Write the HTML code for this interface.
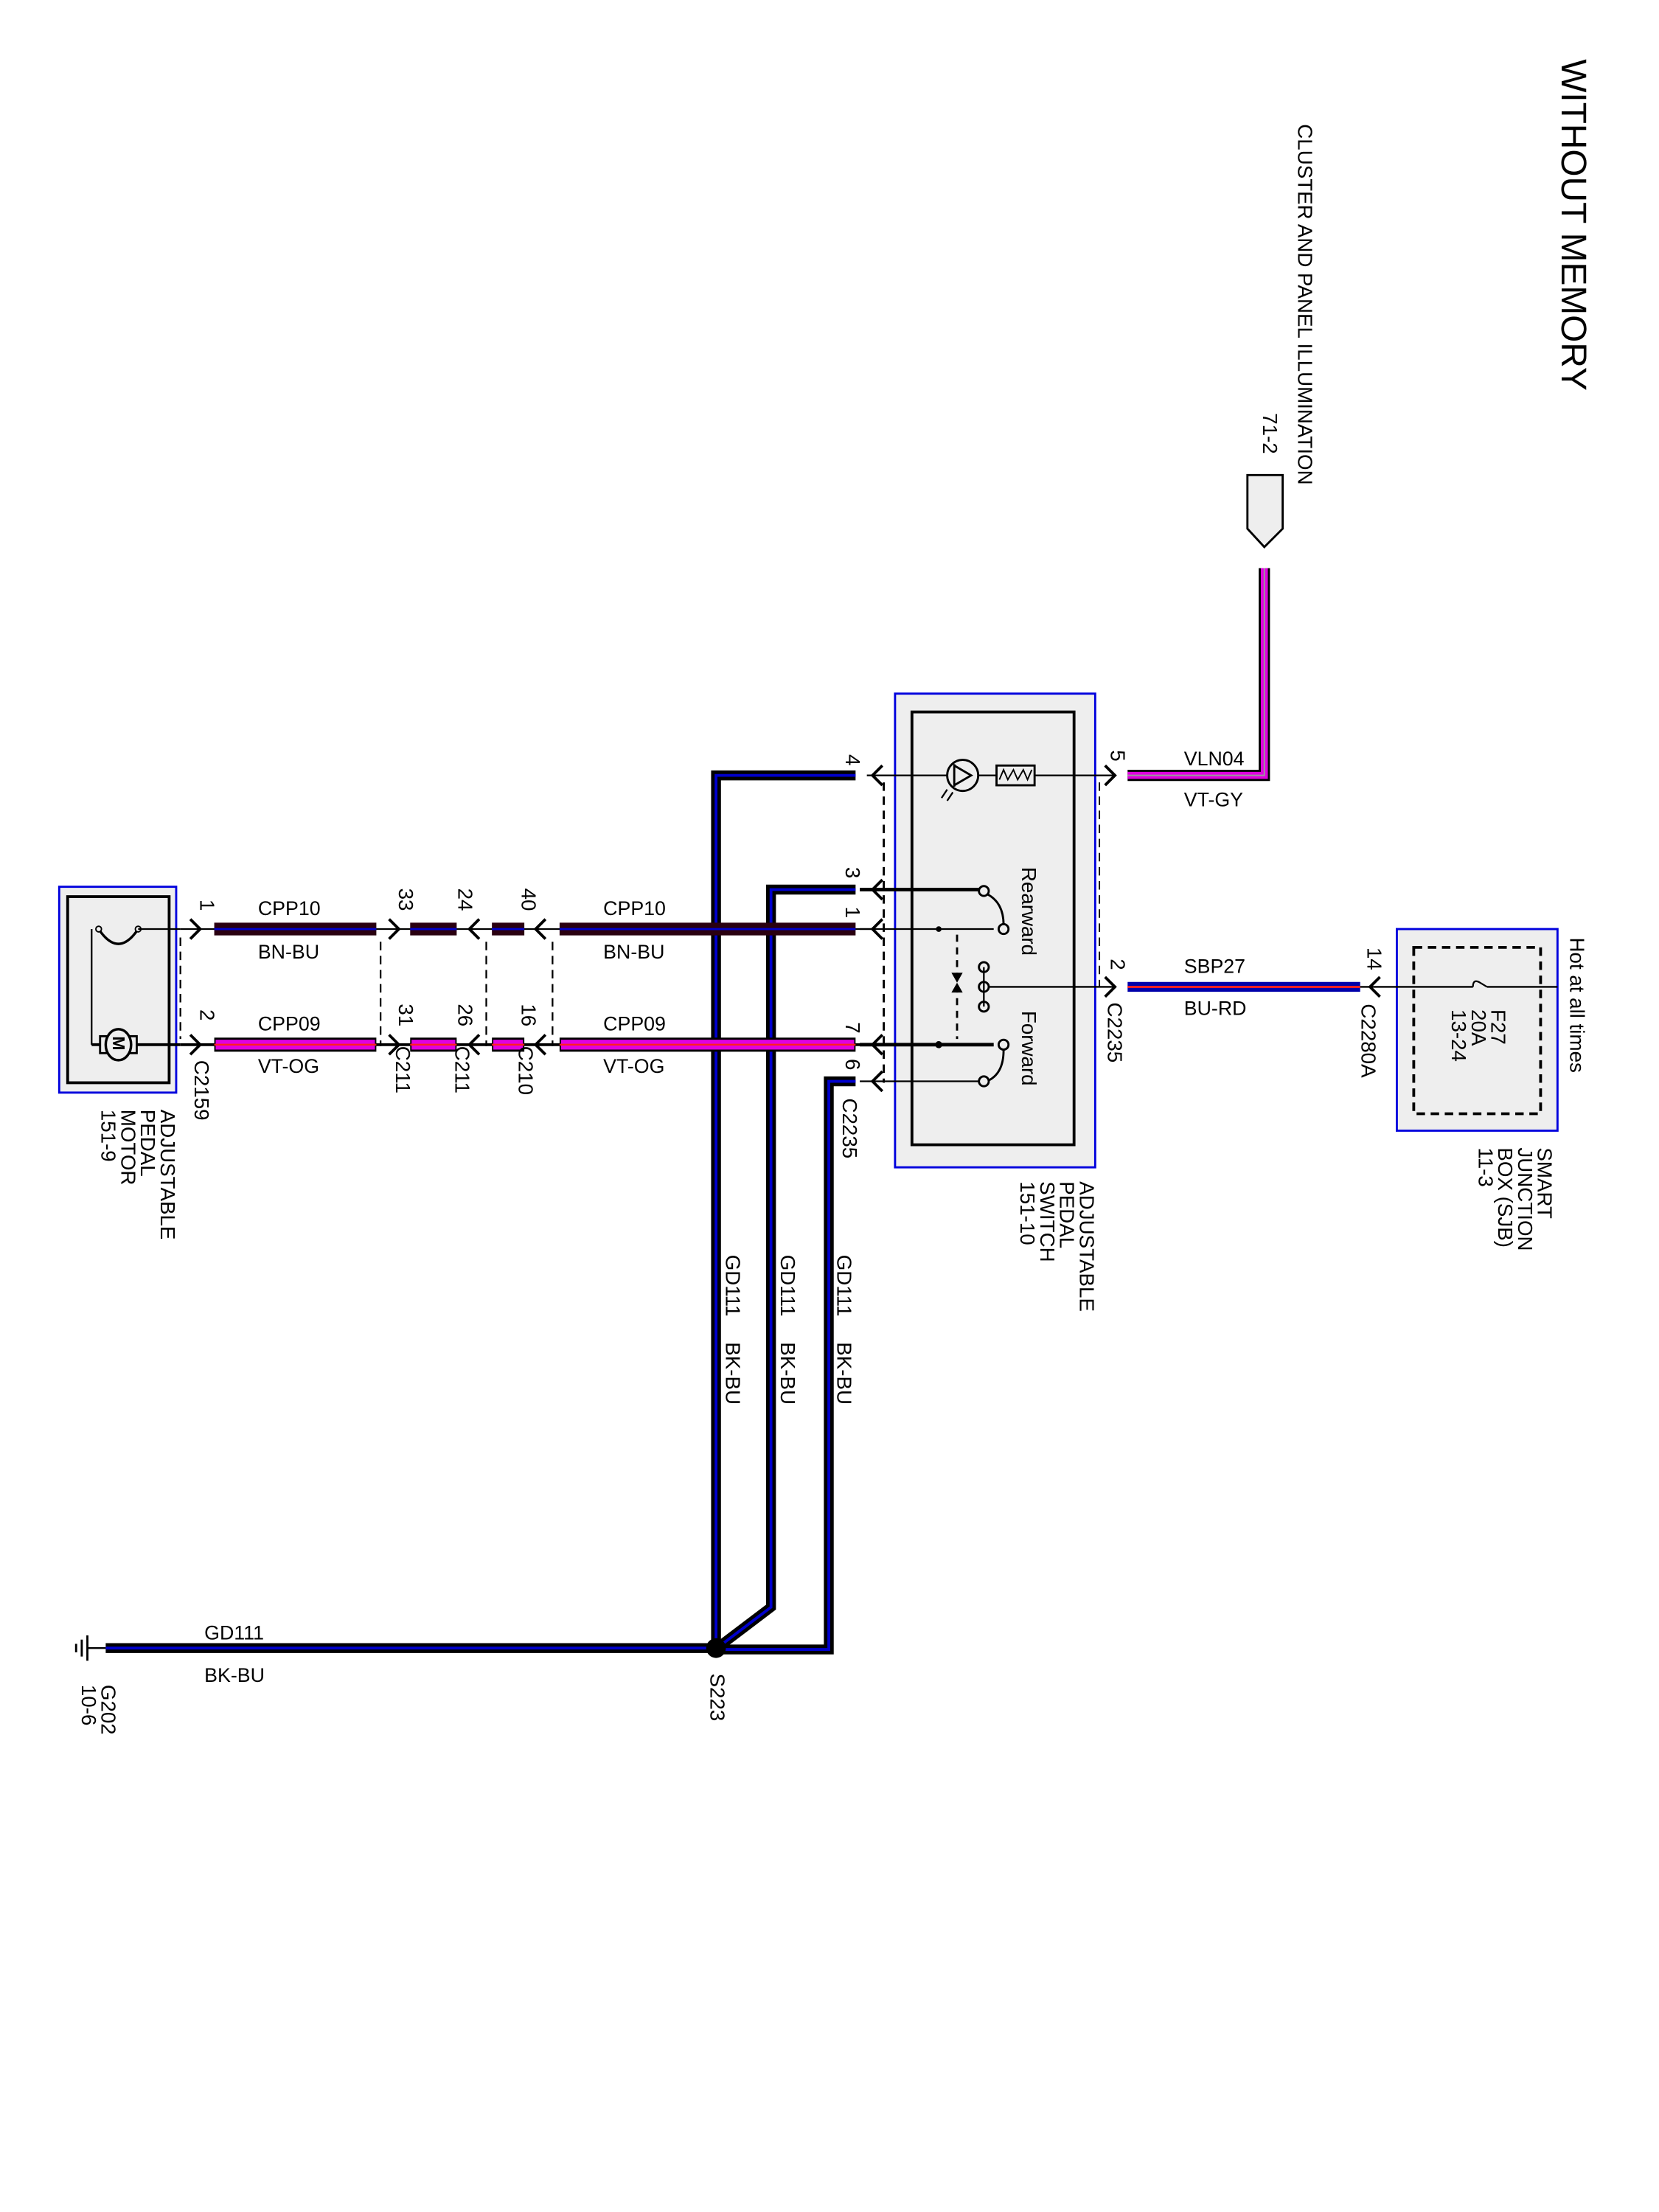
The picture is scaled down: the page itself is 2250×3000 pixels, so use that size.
<!DOCTYPE html>
<html><head><meta charset="utf-8"><style>
html,body{margin:0;padding:0;background:#fff;}
svg{display:block;}
text{font-family:"Liberation Sans",sans-serif;fill:#000;}
.r{font-size:14.5px;}
</style></head><body>
<svg width="2250" height="3000" viewBox="0 0 1177 1569" preserveAspectRatio="none" xmlns="http://www.w3.org/2000/svg">
<rect width="1177" height="1569" fill="#fff"/>

<text transform="translate(1108,42) rotate(90)" font-size="25">WITHOUT MEMORY</text>
<text class="r" transform="translate(921,88) rotate(90)">CLUSTER AND PANEL ILLUMINATION</text>
<text class="r" transform="translate(896,293) rotate(90)">71-2</text>
<polygon points="885,337 910,337 910,375 897,388 885,375" fill="#eee" stroke="#000" stroke-width="1.5"/>

<polyline points="897,403 897,550 800,550" fill="none" stroke="#000" stroke-width="8"/>
<polyline points="897,403 897,550 800,550" fill="none" stroke="#e000e0" stroke-width="5"/>
<polyline points="897,403 897,550 800,550" fill="none" stroke="#999" stroke-width="1"/>
<text x="840" y="543" font-size="14">VLN04</text>
<text x="840" y="572" font-size="14">VT-GY</text>

<rect x="635" y="492" width="142" height="336" fill="#eee" stroke="#0000dd" stroke-width="1.5"/>
<rect x="647" y="505" width="115" height="307" fill="none" stroke="#000" stroke-width="2"/>
<line x1="627" y1="555" x2="627" y2="768" stroke="#000" stroke-width="1.5" stroke-dasharray="6,4"/>
<line x1="780" y1="555" x2="780" y2="700" stroke="#000" stroke-width="1" stroke-dasharray="6,4"/>
<text x="725" y="615" font-size="14.5" transform="rotate(90 725 615)">Rearward</text>
<text x="725" y="717" font-size="14.5" transform="rotate(90 725 717)">Forward</text>
<line x1="615" y1="550" x2="790" y2="550" stroke="#000" stroke-width="1.2"/>
<circle cx="683" cy="550" r="11" fill="#eee" stroke="#000" stroke-width="1.5"/>
<polyline points="677,543 689,550 677,557" fill="none" stroke="#000" stroke-width="1.5"/>
<line x1="677" y1="542" x2="677" y2="558" stroke="#000" stroke-width="1.5"/>
<line x1="672" y1="560" x2="668" y2="566" stroke="#000" stroke-width="1.2"/>
<line x1="676" y1="562" x2="672" y2="568" stroke="#000" stroke-width="1.2"/>
<rect x="707" y="543" width="27" height="14" fill="#eee" stroke="#000" stroke-width="1.5"/>
<polyline points="709,553 712,546 715,553 719,546 722,553 726,546 729,553 732,546" fill="none" stroke="#000" stroke-width="1"/>
<line x1="610" y1="631" x2="697" y2="631" stroke="#000" stroke-width="2.5"/>
<circle cx="698" cy="632" r="3.5" fill="#eee" stroke="#000" stroke-width="1.5"/>
<path d="M700,634 Q712,640 712,656" fill="none" stroke="#000" stroke-width="1.5"/>
<line x1="610" y1="659" x2="705" y2="659" stroke="#000" stroke-width="1.2"/>
<circle cx="666" cy="659" r="2" fill="#000"/>
<circle cx="712" cy="659" r="3.5" fill="#eee" stroke="#000" stroke-width="1.5"/>
<line x1="679" y1="663" x2="679" y2="737" stroke="#000" stroke-width="1.5" stroke-dasharray="5,4"/>
<polygon points="675,690 683,690 679,697" fill="#000"/>
<polygon points="675,704 683,704 679,697" fill="#000"/>
<circle cx="698" cy="686" r="3.5" fill="#eee" stroke="#000" stroke-width="1.5"/>
<circle cx="698" cy="700" r="3.5" fill="#eee" stroke="#000" stroke-width="1.5"/>
<circle cx="698" cy="714" r="3.5" fill="#eee" stroke="#000" stroke-width="1.5"/>
<line x1="698" y1="686" x2="698" y2="714" stroke="#000" stroke-width="1.2"/>
<line x1="701" y1="700" x2="790" y2="700" stroke="#000" stroke-width="1.2"/>
<line x1="610" y1="741" x2="705" y2="741" stroke="#000" stroke-width="2.5"/>
<circle cx="666" cy="741" r="2.5" fill="#000"/>
<circle cx="712" cy="741" r="3.5" fill="#eee" stroke="#000" stroke-width="1.5"/>
<path d="M712,745 Q712,762 700,767" fill="none" stroke="#000" stroke-width="1.5"/>
<line x1="610" y1="767" x2="695" y2="767" stroke="#000" stroke-width="1.2"/>
<circle cx="698" cy="767" r="3.5" fill="#eee" stroke="#000" stroke-width="1.5"/>
<g fill="none" stroke="#000" stroke-width="2">
<polyline points="626,543 619,550 626,557"/>
<polyline points="626,624 619,631 626,638"/>
<polyline points="626,652 619,659 626,666"/>
<polyline points="626,734 619,741 626,748"/>
<polyline points="626,760 619,767 626,774"/>
<polyline points="784,543 791,550 784,557"/>
<polyline points="784,693 791,700 784,707"/>
</g>
<text class="r" transform="translate(600,535) rotate(90)">4</text>
<text class="r" transform="translate(600,615) rotate(90)">3</text>
<text class="r" transform="translate(600,643) rotate(90)">1</text>
<text class="r" transform="translate(600,725) rotate(90)">7</text>
<text class="r" transform="translate(600,751) rotate(90)">6</text>
<text class="r" transform="translate(598,779) rotate(90)">C2235</text>
<text class="r" transform="translate(788,532) rotate(90)">5</text>
<text class="r" transform="translate(788,680) rotate(90)">2</text>
<text class="r" transform="translate(786,711) rotate(90)">C2235</text>
<text class="r" transform="translate(766,838) rotate(90)">ADJUSTABLE</text>
<text class="r" transform="translate(752,838) rotate(90)">PEDAL</text>
<text class="r" transform="translate(738,838) rotate(90)">SWITCH</text>
<text class="r" transform="translate(724,838) rotate(90)">151-10</text>

<line x1="800" y1="700" x2="965" y2="700" stroke="#0000aa" stroke-width="7"/>
<line x1="800" y1="700" x2="965" y2="700" stroke="#ff2020" stroke-width="1.5"/>
<text x="840" y="690" font-size="14">SBP27</text>
<text x="840" y="720" font-size="14">BU-RD</text>

<rect x="991" y="659" width="114" height="143" fill="#eee" stroke="#0000dd" stroke-width="1.5"/>
<rect x="1003" y="672" width="90" height="118" fill="none" stroke="#000" stroke-width="2" stroke-dasharray="6,4"/>
<line x1="965" y1="700" x2="1045" y2="700" stroke="#000" stroke-width="1.2"/>
<path d="M1045,700 q0,-6 5,-3 q5,3 5,3" fill="none" stroke="#000" stroke-width="1.2"/>
<line x1="1055" y1="700" x2="1105" y2="700" stroke="#000" stroke-width="1.2"/>
<polyline points="979,693 972,700 979,707" fill="none" stroke="#000" stroke-width="2"/>
<text class="r" transform="translate(970,672) rotate(90)">14</text>
<text class="r" transform="translate(966,712) rotate(90)">C2280A</text>
<text class="r" transform="translate(1058,716) rotate(90)">F27</text>
<text class="r" transform="translate(1044,716) rotate(90)">20A</text>
<text class="r" transform="translate(1030,716) rotate(90)">13-24</text>
<text class="r" transform="translate(1114,665) rotate(90)">Hot at all times</text>
<text class="r" transform="translate(1091,814) rotate(90)">SMART</text>
<text class="r" transform="translate(1077,814) rotate(90)">JUNCTION</text>
<text class="r" transform="translate(1063,814) rotate(90)">BOX (SJB)</text>
<text class="r" transform="translate(1049,814) rotate(90)">11-3</text>

<g fill="none" stroke-linejoin="miter">
<polyline points="607,550 508,550 508,1168" stroke="#000" stroke-width="7"/>
<polyline points="607,550 508,550 508,1168" stroke="#0000cc" stroke-width="2"/>
<polyline points="607,631 547,631 547,1140 510,1168" stroke="#000" stroke-width="7"/>
<polyline points="607,631 547,631 547,1140 510,1168" stroke="#0000cc" stroke-width="2"/>
<polyline points="607,767 588,767 588,1170 510,1170" stroke="#000" stroke-width="7"/>
<polyline points="607,767 588,767 588,1170 510,1170" stroke="#0000cc" stroke-width="2"/>
<line x1="510" y1="1169" x2="75" y2="1169" stroke="#000" stroke-width="7"/>
<line x1="510" y1="1169" x2="75" y2="1169" stroke="#0000cc" stroke-width="2"/>
</g>
<circle cx="508" cy="1169" r="7" fill="#000"/>
<line x1="75" y1="1169" x2="62" y2="1169" stroke="#000" stroke-width="1.2"/>
<line x1="62" y1="1160" x2="62" y2="1178" stroke="#000" stroke-width="1.5"/>
<line x1="58" y1="1163" x2="58" y2="1175" stroke="#000" stroke-width="1.5"/>
<line x1="54" y1="1166" x2="54" y2="1172" stroke="#000" stroke-width="1.5"/>
<text x="145" y="1163" font-size="14">GD111</text>
<text x="145" y="1193" font-size="14">BK-BU</text>
<text class="r" transform="translate(504,1187) rotate(90)">S223</text>
<text class="r" transform="translate(72,1195) rotate(90)">G202</text>
<text class="r" transform="translate(58,1195) rotate(90)">10-6</text>
<text class="r" transform="translate(515,890) rotate(90)">GD111</text>
<text class="r" transform="translate(515,952) rotate(90)">BK-BU</text>
<text class="r" transform="translate(554,890) rotate(90)">GD111</text>
<text class="r" transform="translate(554,952) rotate(90)">BK-BU</text>
<text class="r" transform="translate(594,890) rotate(90)">GD111</text>
<text class="r" transform="translate(594,952) rotate(90)">BK-BU</text>

<line x1="128" y1="659" x2="620" y2="659" stroke="#000" stroke-width="1.2"/>
<line x1="128" y1="741" x2="620" y2="741" stroke="#000" stroke-width="2"/>
<g>
<line x1="152" y1="659" x2="267" y2="659" stroke="#2a0010" stroke-width="9"/>
<line x1="291" y1="659" x2="324" y2="659" stroke="#2a0010" stroke-width="9"/>
<line x1="349" y1="659" x2="372" y2="659" stroke="#2a0010" stroke-width="9"/>
<line x1="397" y1="659" x2="607" y2="659" stroke="#2a0010" stroke-width="9"/>
<line x1="152" y1="659" x2="607" y2="659" stroke="#0000cc" stroke-width="1.5" stroke-dasharray="115,24,33,25,23,25,210"/>
<line x1="152" y1="741" x2="267" y2="741" stroke="#000" stroke-width="10"/>
<line x1="291" y1="741" x2="324" y2="741" stroke="#000" stroke-width="10"/>
<line x1="349" y1="741" x2="372" y2="741" stroke="#000" stroke-width="10"/>
<line x1="397" y1="741" x2="607" y2="741" stroke="#000" stroke-width="10"/>
<line x1="153" y1="741" x2="266" y2="741" stroke="#e000e0" stroke-width="7"/>
<line x1="292" y1="741" x2="323" y2="741" stroke="#e000e0" stroke-width="7"/>
<line x1="350" y1="741" x2="371" y2="741" stroke="#e000e0" stroke-width="7"/>
<line x1="398" y1="741" x2="606" y2="741" stroke="#e000e0" stroke-width="7"/>
<line x1="152" y1="741" x2="607" y2="741" stroke="#ff2020" stroke-width="1.2" stroke-dasharray="115,24,33,25,23,25,210"/>
</g>

<g stroke="#000" stroke-width="1.2" stroke-dasharray="6,4">
<line x1="270" y1="668" x2="270" y2="742"/>
<line x1="345" y1="668" x2="345" y2="742"/>
<line x1="392" y1="668" x2="392" y2="742"/>
<line x1="128" y1="665" x2="128" y2="737"/>
</g>
<g fill="none" stroke="#000" stroke-width="2">
<polyline points="135,652 142,659 135,666"/>
<polyline points="135,734 142,741 135,748"/>
<polyline points="276,652 283,659 276,666"/>
<polyline points="276,734 283,741 276,748"/>
<polyline points="340,652 333,659 340,666"/>
<polyline points="340,734 333,741 340,748"/>
<polyline points="387,652 380,659 387,666"/>
<polyline points="387,734 380,741 387,748"/>
</g>
<text x="183" y="649" font-size="14">CPP10</text>
<text x="183" y="680" font-size="14">BN-BU</text>
<text x="183" y="731" font-size="14">CPP09</text>
<text x="183" y="761" font-size="14">VT-OG</text>
<text x="428" y="649" font-size="14">CPP10</text>
<text x="428" y="680" font-size="14">BN-BU</text>
<text x="428" y="731" font-size="14">CPP09</text>
<text x="428" y="761" font-size="14">VT-OG</text>
<text class="r" transform="translate(142,638) rotate(90)">1</text>
<text class="r" transform="translate(142,716) rotate(90)">2</text>
<text class="r" transform="translate(138,752) rotate(90)">C2159</text>
<text class="r" transform="translate(283,630) rotate(90)">33</text>
<text class="r" transform="translate(325,630) rotate(90)">24</text>
<text class="r" transform="translate(370,630) rotate(90)">40</text>
<text class="r" transform="translate(283,712) rotate(90)">31</text>
<text class="r" transform="translate(325,712) rotate(90)">26</text>
<text class="r" transform="translate(370,712) rotate(90)">16</text>
<text class="r" transform="translate(281,742) rotate(90)">C211</text>
<text class="r" transform="translate(323,742) rotate(90)">C211</text>
<text class="r" transform="translate(368,742) rotate(90)">C210</text>

<rect x="42" y="629" width="83" height="146" fill="#eee" stroke="#0000dd" stroke-width="1.5"/>
<rect x="48" y="636" width="72" height="132" fill="none" stroke="#000" stroke-width="2"/>
<line x1="65" y1="659" x2="65" y2="741" stroke="#000" stroke-width="1.2"/>
<path d="M70,659 Q84,680 98,659" fill="none" stroke="#000" stroke-width="1.8"/>
<circle cx="70" cy="659" r="2" fill="#eee" stroke="#000"/>
<circle cx="98" cy="659" r="2" fill="#eee" stroke="#000"/>
<line x1="98" y1="659" x2="128" y2="659" stroke="#000" stroke-width="1.2"/>
<line x1="65" y1="741" x2="128" y2="741" stroke="#000" stroke-width="2"/>
<rect x="71" y="735" width="26" height="12" fill="#eee" stroke="#000" stroke-width="1.5"/>
<ellipse cx="84" cy="741" rx="9" ry="11" fill="#eee" stroke="#000" stroke-width="1.8"/>
<text transform="translate(80,735) rotate(90)" font-size="12" font-weight="bold">M</text>
<text class="r" transform="translate(114,787) rotate(90)">ADJUSTABLE</text>
<text class="r" transform="translate(100,787) rotate(90)">PEDAL</text>
<text class="r" transform="translate(86,787) rotate(90)">MOTOR</text>
<text class="r" transform="translate(72,787) rotate(90)">151-9</text>
</svg>
</body></html>
